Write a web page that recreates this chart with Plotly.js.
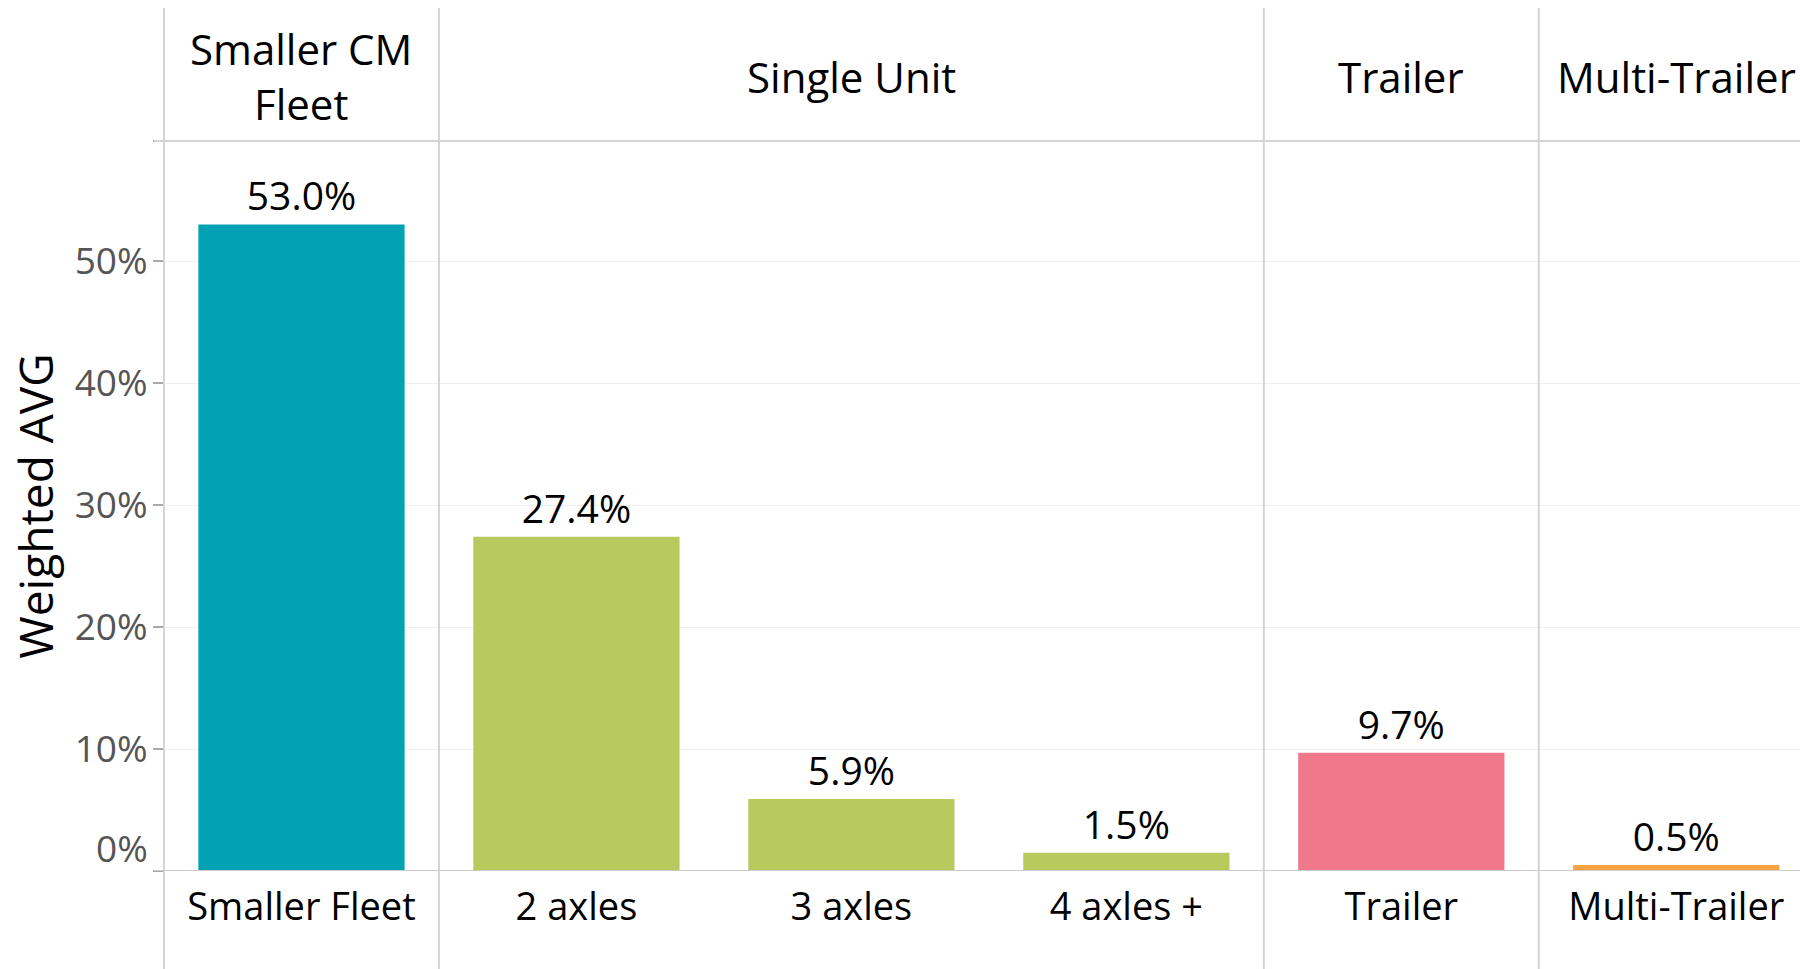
<!DOCTYPE html>
<html>
<head>
<meta charset="utf-8">
<script src="https://cdn.plot.ly/plotly-3.0.1.min.js"></script>
<style>
  html, body { margin: 0; padding: 0; background: #ffffff; overflow: hidden; }
  #chart { width: 1800px; height: 969px; }
</style>
</head>
<body>
<div id="chart"></div>
<script>
// ---- data ----
const categories = ["Smaller Fleet", "2 axles", "3 axles", "4 axles +", "Trailer", "Multi-Trailer"];
const groups = ["Smaller CM<br>Fleet", "Single Unit", "Single Unit", "Single Unit", "Trailer", "Multi-Trailer"];
const values = [53.0, 27.4, 5.9, 1.5, 9.7, 0.5];
const groupColors = {
  "Smaller CM<br>Fleet": "#00a2b3",
  "Single Unit": "#b8ca5e",
  "Trailer": "#f0788b",
  "Multi-Trailer": "#f4a443"
};
const yTickVals = [0, 10, 20, 30, 40, 50];
const yTickText = ["0%", "10%", "20%", "30%", "40%", "50%"];
const yTitle = "Weighted AVG";

// ---- layout constants ----
const W = 1800, H = 969;
const mL = 164, mR = 0, mT = 141, mB = 98;
const plotW = W - mL - mR, plotH = H - mT - mB;
const yMax = 59.84;
const FONT = "'Open Sans', 'Noto Sans', sans-serif";
const lineCol = "#d4d4d4";

const barColors = groups.map(g => groupColors[g]);

const trace = {
  type: "bar",
  x: categories,
  y: values,
  width: 0.75,
  marker: { color: barColors, line: { width: 0 } },
  texttemplate: "%{y:.1f}%",
  textposition: "outside",
  textfont: { family: FONT, size: 39, color: "#000000" },
  constraintext: "none",
  cliponaxis: false,
  hoverinfo: "skip"
};

// group spans derived from the data
const spans = [];
groups.forEach((g, i) => {
  if (spans.length && spans[spans.length - 1].g === g) spans[spans.length - 1].end = i;
  else spans.push({ g: g, start: i, end: i });
});

const yTop = (mT - 8) / plotH + 1;
const yBottom = -(mB) / plotH;

const shapes = [];
shapes.push({ type: "line", xref: "paper", yref: "paper", x0: 0, x1: 0, y0: yBottom, y1: yTop,
  line: { color: lineCol, width: 2 }, layer: "above" });
spans.slice(1).forEach(s => {
  shapes.push({ type: "line", xref: "x", yref: "paper", x0: s.start - 0.5, x1: s.start - 0.5,
    y0: yBottom, y1: yTop, line: { color: lineCol, width: 2 }, layer: "above" });
});
shapes.push({ type: "line", xref: "paper", yref: "paper", x0: -10 / plotW, x1: 1, y0: 1, y1: 1,
  line: { color: lineCol, width: 2 }, layer: "above" });
shapes.push({ type: "line", xref: "paper", yref: "y", x0: -10 / plotW, x1: 1, y0: 0, y1: 0,
  line: { color: "#cccccc", width: 2 }, layer: "above" });

const annotations = [];
spans.forEach(s => {
  annotations.push({
    xref: "x", yref: "paper",
    x: (s.start + s.end) / 2, y: (871 - 76) / plotH,
    text: s.g, showarrow: false, xanchor: "center", yanchor: "middle",
    font: { family: FONT, size: 42, color: "#000000" }, align: "center"
  });
});
annotations.push({
  xref: "paper", yref: "y", x: -14 / plotW, y: yTickVals[0], yshift: 24,
  text: yTickText[0], showarrow: false, xanchor: "right", yanchor: "middle",
  font: { family: FONT, size: 37, color: "#555555" }
});

const layout = {
  width: W, height: H,
  margin: { l: mL, r: mR, t: mT, b: mB, pad: 0 },
  paper_bgcolor: "#ffffff", plot_bgcolor: "#ffffff",
  showlegend: false,
  bargap: 0.25,
  xaxis: {
    type: "category",
    range: [-0.5, 5.45],
    showgrid: false, zeroline: false, showline: false,
    ticks: "", tickfont: { family: FONT, size: 38, color: "#000000" },
    ticklabelstandoff: 10,
    fixedrange: true
  },
  yaxis: {
    range: [0, yMax],
    tickvals: yTickVals.concat([yMax]),
    ticktext: [""].concat(yTickText.slice(1), [""]),
    tickfont: { family: FONT, size: 37, color: "#555555" },
    ticks: "outside", ticklen: 10, tickwidth: 1.5, tickcolor: "#aaaaaa",
    ticklabelstandoff: -2,
    showgrid: true, gridcolor: "#efefef", gridwidth: 1,
    zeroline: false, showline: false,
    title: { text: yTitle, font: { family: FONT, size: 46, color: "#000000" }, standoff: 6 },
    automargin: false,
    fixedrange: true
  },
  shapes: shapes,
  annotations: annotations
};

Plotly.newPlot("chart", [trace], layout, { displayModeBar: false, staticPlot: true });
</script>
</body>
</html>
